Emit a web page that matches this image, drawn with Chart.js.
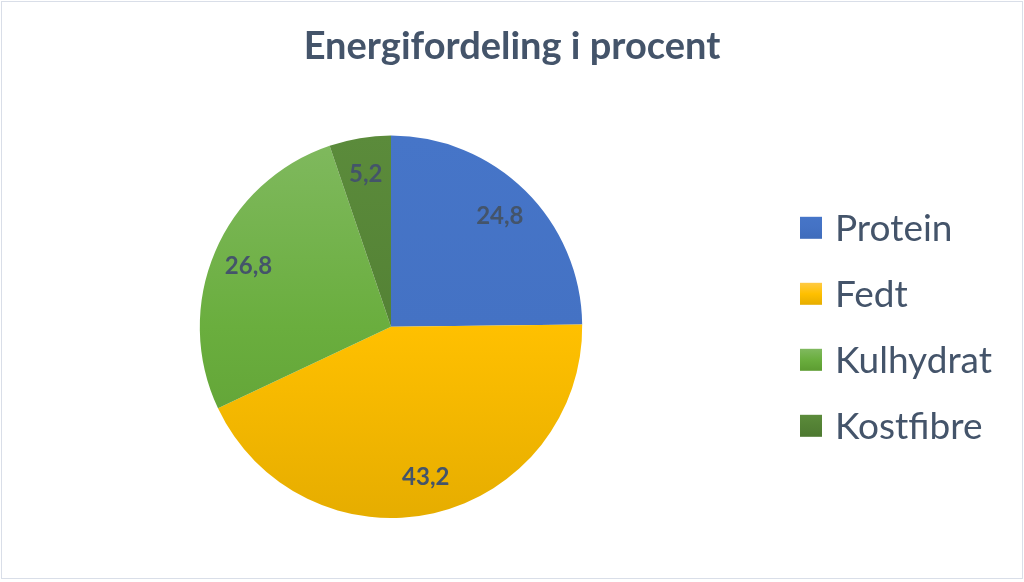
<!DOCTYPE html>
<html>
<head>
<meta charset="utf-8">
<script src="https://cdn.jsdelivr.net/npm/chart.js@4/dist/chart.umd.min.js"></script>
<style>
    html, body { margin: 0; padding: 0; background: #fff; }
    #wrap {
        position: absolute; left: 1px; top: 1px;
        width: 1020px; height: 576px;
        border: 1px solid #d9dee8;
        background: #fff;
    }
    canvas { display: block; }
</style>
</head>
<body>
<div id="wrap"><canvas id="energyChart" width="1020" height="576"></canvas></div>
<script>
const labels = ['Protein', 'Fedt', 'Kulhydrat', 'Kostfibre'];
const values = [24.8, 43.2, 26.8, 5.2];
// light (top), base (middle), dark (bottom)
const sliceColors = [
    ['#4675C8', '#4472C4', '#3F6CBB'],
    ['#FFCA45', '#FFC000', '#E6AD00'],
    ['#80B95F', '#6AAE3E', '#5C9C31'],
    ['#5B8B3B', '#548235', '#4D7931']
];
const textColor = '#44546A';
const fontFamily = 'Lato, "Open Sans", sans-serif';

function sliceFill(context) {
    const chart = context.chart;
    const colors = sliceColors[context.dataIndex];
    const area = chart.chartArea;
    if (!area) return colors[1];
    const cy = (area.top + area.bottom) / 2;
    const r = Math.min(area.right - area.left, area.bottom - area.top) / 2;
    const g = chart.ctx.createLinearGradient(0, cy - r, 0, cy + r);
    g.addColorStop(0, colors[0]);
    g.addColorStop(0.5, colors[1]);
    g.addColorStop(1, colors[2]);
    return g;
}

// title spans the whole canvas, not only the area left of the legend
const wideTitle = {
    id: 'wideTitle',
    afterLayout(chart) {
        const t = chart.titleBlock;
        if (!t) return;
        t.left = 0;
        t.right = chart.width;
        t.width = chart.width;
    }
};

// value labels placed at ~80% of the radius, like Excel's best fit
const valueLabels = {
    id: 'valueLabels',
    afterDatasetsDraw(chart) {
        const ctx = chart.ctx;
        const meta = chart.getDatasetMeta(0);
        ctx.save();
        ctx.font = 'bold 24px ' + fontFamily;
        ctx.fillStyle = textColor;
        ctx.textAlign = 'center';
        ctx.textBaseline = 'middle';
        meta.data.forEach((arc, i) => {
            const p = arc.getProps(['x', 'y', 'startAngle', 'endAngle', 'outerRadius'], true);
            const mid = (p.startAngle + p.endAngle) / 2;
            const rr = p.outerRadius * 0.81;
            const txt = values[i].toFixed(1).replace('.', ',');
            ctx.fillText(txt, p.x + Math.cos(mid) * rr, p.y + Math.sin(mid) * rr);
        });
        ctx.restore();
    }
};

// legend drawn to the right of the pie, centred on it
const sideLegend = {
    id: 'sideLegend',
    afterDraw(chart) {
        const ctx = chart.ctx;
        const area = chart.chartArea;
        const cy = (area.top + area.bottom) / 2;
        const step = 66;
        const boxX = area.right + 36;
        ctx.save();
        ctx.font = '37px ' + fontFamily;
        ctx.textBaseline = 'middle';
        ctx.textAlign = 'left';
        chart.data.labels.forEach((label, i) => {
            const y = cy + (i - (labels.length - 1) / 2) * step;
            const c = sliceColors[i];
            const g = ctx.createLinearGradient(0, y - 11, 0, y + 11);
            g.addColorStop(0, c[0]);
            g.addColorStop(0.5, c[1]);
            g.addColorStop(1, c[2]);
            ctx.fillStyle = g;
            ctx.fillRect(boxX, y - 11, 22, 22);
            ctx.fillStyle = textColor;
            ctx.fillText(label, boxX + 35, y + 1);
        });
        ctx.restore();
    }
};

const chart = new Chart(document.getElementById('energyChart').getContext('2d'), {
    type: 'pie',
    data: {
        labels: labels,
        datasets: [{
            data: values,
            backgroundColor: sliceFill,
            borderWidth: 0
        }]
    },
    options: {
        responsive: false,
        animation: false,
        layout: {
            padding: { left: 16, right: 258, top: 0, bottom: 60 }
        },
        plugins: {
            title: {
                display: true,
                text: 'Energifordeling i procent',
                color: textColor,
                font: { family: fontFamily, size: 38, weight: 'bold' },
                padding: { top: 22, bottom: 66 }
            },
            legend: { display: false },
            tooltip: { enabled: false }
        }
    },
    plugins: [wideTitle, valueLabels, sideLegend]
});
</script>
</body>
</html>
